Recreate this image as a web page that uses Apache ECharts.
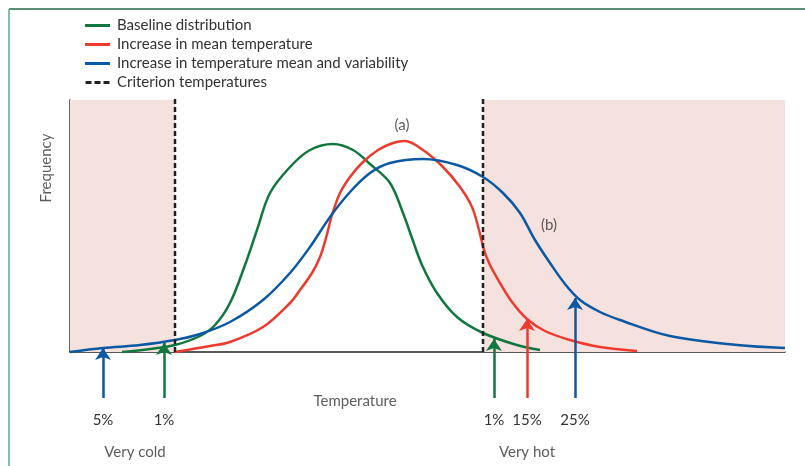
<!DOCTYPE html>
<html>
<head>
<meta charset="utf-8">
<script src="https://cdn.jsdelivr.net/npm/echarts@6/dist/echarts.min.js"></script>
<style>
  html, body { margin: 0; padding: 0; background: #fff; }
  #chart { width: 805px; height: 466px; }
</style>
</head>
<body>
<div id="chart"></div>
<script>
// temperature (arbitrary units) vs frequency
const baseline = [[52,0],[80,3],[105,7],[130,16],[145,27],[160,49],[175,87],[187,122],[200,159],[220,185],[240,202],[263,208],[283,202],[300,188],[320,169],[333,139],[342,114],[352,87],[367,59],[387,35],[413,19],[447,7],[470,2]]
const meanShift = [[105,0],[140,6],[160,10],[193,25],[220,49],[230,62],[242,79],[250,95],[256,114],[262,137],[270,159],[280,175],[292,189],[308,202],[323,209],[335,211],[353,202],[373,185],[390,165],[402,145],[409,122],[414,102],[420,87],[430,69],[442,50],[457,33],[475,21],[500,12],[530,5],[567,1]]
const meanVarShift = [[0,0],[33,4],[70,7],[105,12],[130,18],[160,30],[193,52],[220,79],[240,105],[260,135],[280,160],[300,179],[320,189],[353,193],[387,187],[413,175],[433,159],[450,139],[465,112],[480,89],[495,68],[510,52],[530,40],[550,32],[600,16],[667,7],[715,4]]

const criterionTemps = [105, 413]
const coldZone = [0, 105]
const hotZone = [413, 715]

// percentile arrows
const arrowTemps = [33, 94, 424, 457, 505]
const arrowTips = [4, 9, 13, 33, 54]
const arrowLabels = ['5%', '1%', '1%', '15%', '25%']
const arrowCurve = ['blue', 'green', 'green', 'red', 'blue']

const notes = [[332, 227, '(a)'], [479, 127, '(b)'], [285, -49, 'Temperature'], [65, -100, 'Very cold'], [457, -100, 'Very hot']]

const COLORS = { green: '#11773f', red: '#ee3a2e', blue: '#0b58a4' }
const FONT = 'Lato'
const ARROW_BASE = -46

const chart = echarts.init(document.getElementById('chart'))

const curve = (name, data, color) => ({
  name,
  type: 'line',
  data,
  smooth: 0.35,
  symbol: 'none',
  clip: false,
  lineStyle: { color, width: 2.5 },
  itemStyle: { color },
  z: 3
})

const dashed = x => ({
  name: 'Criterion temperatures',
  type: 'line',
  data: [[x, 0], [x, 255]],
  symbol: 'none',
  clip: false,
  lineStyle: { color: '#222', width: 2.5, type: [5, 3] },
  itemStyle: { color: '#222' },
  z: 4
})

const option = {
  animation: false,
  textStyle: { fontFamily: FONT },
  grid: { left: 70, right: 20, top: 100, bottom: 114 },
  legend: {
    orient: 'vertical',
    left: 85,
    top: 18,
    padding: 0,
    itemWidth: 25,
    itemHeight: 3,
    itemGap: 4,
    itemStyle: { borderWidth: 0 },
    data: [
      { name: 'Baseline distribution', icon: 'rect' },
      { name: 'Increase in mean temperature', icon: 'rect' },
      { name: 'Increase in temperature mean and variability', icon: 'rect' },
      { name: 'Criterion temperatures', icon: 'path://M0,0h6v3h-6z M9,0h6v3h-6z M18,0h6v3h-6z' }
    ],
    textStyle: { fontFamily: FONT, fontSize: 15, lineHeight: 15, color: '#333', padding: [0, 0, 0, 2] }
  },
  xAxis: {
    type: 'value',
    min: 0,
    max: 715,
    axisLine: { show: true, lineStyle: { color: '#222', width: 1.5 } },
    axisTick: { show: false },
    axisLabel: { show: false },
    splitLine: { show: false }
  },
  yAxis: {
    type: 'value',
    min: 0,
    max: 252,
    axisLine: { show: true, lineStyle: { color: '#333', width: 1.5 } },
    axisTick: { show: false },
    axisLabel: { show: false },
    splitLine: { show: false }
  },
  graphic: [
    { type: 'line', shape: { x1: 9, y1: 9, x2: 805, y2: 9 }, style: { stroke: '#1f6b45', lineWidth: 1.5 } },
    { type: 'line', shape: { x1: 9, y1: 9, x2: 9, y2: 466 }, style: { stroke: '#5aae86', lineWidth: 1.5 } }
  ],
  series: [
    {
      name: 'zones',
      type: 'line',
      data: [],
      markArea: {
        silent: true,
        itemStyle: { color: '#f5e1de' },
        data: [
          [{ xAxis: coldZone[0], yAxis: 0 }, { xAxis: coldZone[1], yAxis: 252 }],
          [{ xAxis: hotZone[0], yAxis: 0 }, { xAxis: hotZone[1], yAxis: 252 }]
        ]
      },
      z: 1
    },
    curve('Baseline distribution', baseline, COLORS.green),
    curve('Increase in mean temperature', meanShift, COLORS.red),
    curve('Increase in temperature mean and variability', meanVarShift, COLORS.blue),
    dashed(criterionTemps[0]),
    dashed(criterionTemps[1]),
    {
      name: 'arrows',
      type: 'lines',
      coordinateSystem: 'cartesian2d',
      clip: false,
      symbol: ['none', 'arrow'],
      symbolSize: [0, 12],
      z: 5,
      label: {
        show: true,
        position: 'start',
        distance: 15,
        fontFamily: FONT,
        fontSize: 15,
        color: '#333',
        formatter: p => p.name
      },
      data: arrowTemps.map((t, i) => ({
        name: arrowLabels[i],
        coords: [[t, ARROW_BASE], [t, arrowTips[i]]],
        lineStyle: { color: COLORS[arrowCurve[i]], width: 2.5, opacity: 1 }
      }))
    },
    {
      name: 'notes',
      type: 'scatter',
      clip: false,
      symbolSize: 0,
      data: notes,
      label: {
        show: true,
        position: 'inside',
        fontFamily: FONT,
        fontSize: 15,
        color: '#333',
        formatter: p => p.value[2]
      },
      z: 6
    },
    {
      name: 'axisName',
      type: 'scatter',
      clip: false,
      symbolSize: 0,
      data: [[-24, 184, 'Frequency']],
      label: {
        show: true,
        position: 'inside',
        rotate: 90,
        fontFamily: FONT,
        fontSize: 15,
        color: '#333',
        formatter: p => p.value[2]
      }
    }
  ]
}

chart.setOption(option)
</script>
</body>
</html>
